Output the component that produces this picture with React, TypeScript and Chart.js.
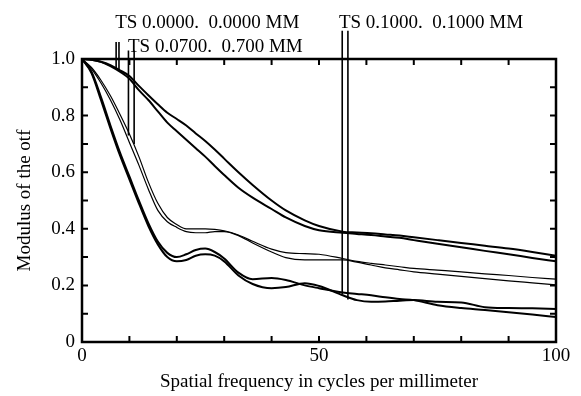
import React, { useEffect, useRef } from "react";
import { Chart, registerables } from "chart.js";

Chart.register(...registerables);

// Spatial frequency samples (cycles/mm)
const FREQ = [0, 2, 4, 6, 8, 10, 12, 14, 16, 18, 20, 22, 24, 26, 28, 30, 33, 36, 40, 43, 47, 50, 55, 58, 61, 64, 67, 70, 75, 80, 85, 90, 95, 100];

// TS 0.0000 (on axis)
const TS0_T = [1.0, 0.997, 0.99, 0.978, 0.96, 0.94, 0.905, 0.872, 0.84, 0.81, 0.788, 0.765, 0.737, 0.71, 0.68, 0.648, 0.6, 0.555, 0.5, 0.465, 0.43, 0.41, 0.39, 0.387, 0.384, 0.38, 0.376, 0.37, 0.36, 0.35, 0.34, 0.33, 0.318, 0.305];
const TS0_S = [1.0, 0.997, 0.99, 0.975, 0.955, 0.93, 0.89, 0.855, 0.815, 0.775, 0.745, 0.715, 0.685, 0.655, 0.622, 0.59, 0.545, 0.51, 0.47, 0.44, 0.41, 0.395, 0.386, 0.382, 0.378, 0.373, 0.368, 0.36, 0.347, 0.335, 0.322, 0.31, 0.297, 0.285];

// TS 0.0700
const TS07_T = [1.0, 0.97, 0.925, 0.87, 0.805, 0.735, 0.655, 0.565, 0.49, 0.44, 0.415, 0.4, 0.4, 0.4, 0.398, 0.393, 0.378, 0.356, 0.328, 0.316, 0.312, 0.31, 0.295, 0.285, 0.278, 0.272, 0.266, 0.26, 0.254, 0.248, 0.241, 0.235, 0.228, 0.222];
const TS07_S = [1.0, 0.965, 0.915, 0.855, 0.785, 0.705, 0.625, 0.54, 0.465, 0.425, 0.405, 0.39, 0.386, 0.386, 0.39, 0.39, 0.376, 0.35, 0.318, 0.298, 0.29, 0.29, 0.29, 0.282, 0.272, 0.262, 0.255, 0.248, 0.24, 0.232, 0.224, 0.216, 0.209, 0.202];

// TS 0.1000
const TS10_T = [1.0, 0.955, 0.865, 0.765, 0.67, 0.585, 0.5, 0.42, 0.355, 0.315, 0.3, 0.31, 0.325, 0.33, 0.318, 0.295, 0.245, 0.222, 0.226, 0.219, 0.2, 0.19, 0.175, 0.17, 0.165, 0.158, 0.152, 0.148, 0.13, 0.12, 0.113, 0.105, 0.097, 0.088];
const TS10_S = [1.0, 0.95, 0.855, 0.755, 0.66, 0.575, 0.49, 0.41, 0.345, 0.3, 0.285, 0.29, 0.305, 0.31, 0.305, 0.285, 0.235, 0.205, 0.19, 0.194, 0.208, 0.198, 0.165, 0.148, 0.142, 0.143, 0.146, 0.148, 0.142, 0.14, 0.123, 0.12, 0.119, 0.117];

// Tick labels
const X_LABELED = [0, 50, 100];
const Y_LABELED = [0, 0.2, 0.4, 0.6, 0.8, 1.0];

// Leader lines from field labels down to the curves
const LEADER_X = [7.2, 7.8, 9.8, 11.0, 54.9, 56.1];
const LEADER_TOP = [1.06, 1.06, 1.03, 1.03, 1.1, 1.1];
const LEADER_BOTTOM = [0.965, 0.962, 0.73, 0.7, 0.17, 0.15];

// Field labels
const LABEL_TEXT = ["TS 0.0000.  0.0000 MM", "TS 0.0700.  0.700 MM", "TS 0.1000.  0.1000 MM"];
const LABEL_X = [7.0, 9.7, 54.2];
const LABEL_Y = [1.109, 1.023, 1.109];

const FONT = "'Liberation Serif', 'Times New Roman', Times, serif";

export default function App() {
  const ref = useRef<HTMLCanvasElement | null>(null);

  useEffect(() => {
    const canvas = ref.current;
    if (!canvas) return;

    const series = [
      { data: TS0_T, w: 2 },
      { data: TS0_S, w: 2 },
      { data: TS07_T, w: 1.2 },
      { data: TS07_S, w: 1.2 },
      { data: TS10_T, w: 2 },
      { data: TS10_S, w: 2 },
    ];

    const datasets: any[] = series.map((s) => ({
      data: FREQ.map((f, i) => ({ x: f, y: s.data[i] })),
      borderColor: "#000",
      borderWidth: s.w,
      pointRadius: 0,
      tension: 0.3,
      cubicInterpolationMode: "monotone",
      fill: false,
    }));

    LEADER_X.forEach((x, i) => {
      datasets.push({
        data: [
          { x, y: LEADER_TOP[i] },
          { x, y: LEADER_BOTTOM[i] },
        ],
        borderColor: "#000",
        borderWidth: 1.6,
        pointRadius: 0,
        tension: 0,
        fill: false,
        clip: false,
      });
    });

    const framePlugin = {
      id: "frame",
      afterDatasetsDraw(chart: any) {
        const ctx = chart.ctx;
        const { left, right, top, bottom } = chart.chartArea;
        const xs = chart.scales.x;
        const ys = chart.scales.y;
        ctx.save();
        ctx.strokeStyle = "#000";
        ctx.lineWidth = 2.5;
        ctx.strokeRect(left, top, right - left, bottom - top);
        ctx.lineWidth = 2;
        const tl = 6;
        ctx.beginPath();
        xs.ticks.forEach((t: any) => {
          const p = xs.getPixelForValue(t.value);
          ctx.moveTo(p, bottom);
          ctx.lineTo(p, bottom - tl);
          ctx.moveTo(p, top);
          ctx.lineTo(p, top + tl);
        });
        ys.ticks.forEach((t: any) => {
          const p = ys.getPixelForValue(t.value);
          ctx.moveTo(left, p);
          ctx.lineTo(left + tl, p);
          ctx.moveTo(right, p);
          ctx.lineTo(right - tl, p);
        });
        ctx.stroke();
        ctx.fillStyle = "#000";
        ctx.font = `19px ${FONT}`;
        ctx.textAlign = "left";
        ctx.textBaseline = "alphabetic";
        LABEL_TEXT.forEach((txt, i) => {
          ctx.fillText(txt, xs.getPixelForValue(LABEL_X[i]), ys.getPixelForValue(LABEL_Y[i]));
        });
        ctx.restore();
      },
    };

    const chart = new Chart(canvas, {
      type: "line",
      data: { datasets },
      options: {
        animation: false,
        responsive: false,
        devicePixelRatio: 1,
        events: [],
        layout: { padding: { top: 59, right: 25, left: 0, bottom: 0 } },
        plugins: { legend: { display: false }, tooltip: { enabled: false } },
        scales: {
          x: {
            type: "linear",
            min: 0,
            max: 100,
            border: { display: false },
            grid: { display: false, drawTicks: false, drawOnChartArea: false },
            ticks: {
              stepSize: 10,
              autoSkip: false,
              maxRotation: 0,
              padding: 3,
              color: "#000",
              font: { family: FONT, size: 19 },
              callback: (v: any) => (X_LABELED.some((l) => Math.abs(l - v) < 1e-6) ? String(v) : ""),
            },
            title: {
              display: true,
              text: "Spatial frequency in cycles per millimeter",
              color: "#000",
              font: { family: FONT, size: 19, lineHeight: 1 },
              padding: { top: 0, bottom: 4 },
            },
            afterFit: (s: any) => {
              s.height = 54;
            },
          },
          y: {
            type: "linear",
            min: 0,
            max: 1,
            border: { display: false },
            grid: { display: false, drawTicks: false, drawOnChartArea: false },
            ticks: {
              stepSize: 0.1,
              autoSkip: false,
              padding: 7,
              color: "#000",
              font: { family: FONT, size: 19 },
              callback: (v: any) => {
                const m = Y_LABELED.find((l) => Math.abs(l - v) < 1e-6);
                if (m === undefined) return "";
                return m === 0 ? "0" : m.toFixed(1);
              },
            },
            title: {
              display: true,
              text: "Modulus of the otf",
              color: "#000",
              font: { family: FONT, size: 19, lineHeight: 1 },
              padding: { top: 16, bottom: 0 },
            },
            afterFit: (s: any) => {
              s.width = 82;
            },
          },
        },
      },
      plugins: [framePlugin],
    });

    return () => chart.destroy();
  }, []);

  return (
    <div style={{ position: "absolute", left: 0, top: 0, width: 581, height: 396, background: "#fff" }}>
      <canvas ref={ref} width={581} height={396} style={{ display: "block" }} />
    </div>
  );
}
